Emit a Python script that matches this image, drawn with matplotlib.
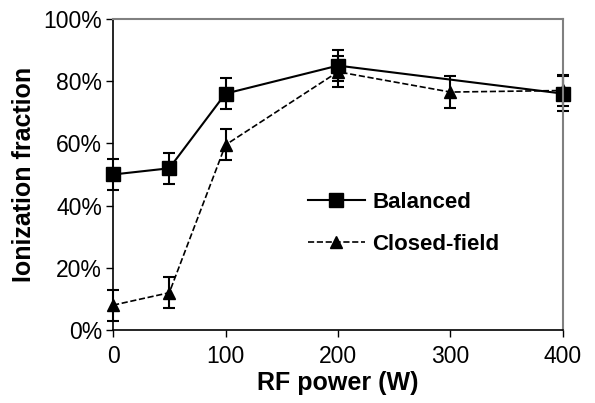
import matplotlib.pyplot as plt
from matplotlib.ticker import PercentFormatter

plt.rcParams['font.family'] = ['Liberation Sans', 'DejaVu Sans']

# данные
bal_x = [0, 50, 100, 200, 400]
bal_y = [50, 52, 76, 85, 76]
bal_err = [5, 5, 5, 5, 5.5]

cf_x = [0, 50, 100, 200, 300, 400]
cf_y = [8, 12, 59.5, 83, 76.5, 77]
cf_err = [5, 5, 5, 5, 5, 5]

fig = plt.figure(figsize=(5.95, 4.03), dpi=100)
ax = fig.add_axes([0.19, 0.181, 0.756, 0.772])

ax.errorbar(bal_x, bal_y, yerr=bal_err, color='black', lw=1.5, marker='s', ms=9.5,
            capsize=4, capthick=1.5, elinewidth=1.5, label='Balanced', clip_on=False)
ax.errorbar(cf_x, cf_y, yerr=cf_err, color='black', lw=1.2, ls='--', marker='^', ms=9,
            capsize=4, capthick=1.5, elinewidth=1.5, label='Closed-field', clip_on=False)

ax.set_xlim(0, 400)
ax.set_ylim(0, 100)
ax.set_xticks([0, 100, 200, 300, 400])
ax.set_yticks([0, 20, 40, 60, 80, 100])
ax.yaxis.set_major_formatter(PercentFormatter(decimals=0))
ax.tick_params(labelsize=16.5, direction='out', length=5, width=1)
ax.tick_params(axis='x', pad=6)
ax.tick_params(axis='y', pad=3)

for s in ['top', 'right']:
    ax.spines[s].set_color('gray')
    ax.spines[s].set_linewidth(1.5)
for s in ['left', 'bottom']:
    ax.spines[s].set_linewidth(1.2)

ax.set_xlabel('RF power (W)', fontsize=18, fontweight='bold', labelpad=2)
ax.set_ylabel('Ionization fraction', fontsize=18, fontweight='bold', labelpad=5)

handles, labels = ax.get_legend_handles_labels()
handles = [h[0] for h in handles]
ax.legend(handles, labels, loc='center left', bbox_to_anchor=(0.388, 0.343), frameon=False,
          prop={'size': 16, 'weight': 'bold'}, handlelength=2.6, handletextpad=0.3,
          labelspacing=0.92)

plt.savefig('out.png', dpi=100)
